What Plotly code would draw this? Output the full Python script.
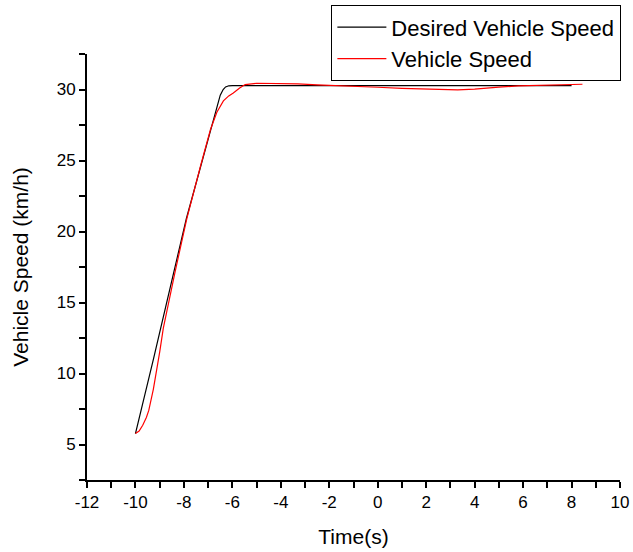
import plotly.graph_objects as go

# Desired vehicle speed (black)
desired_t = [-10.0, -9.26, -7.9, -6.7, -6.5, -6.38, -6.28, -6.15, -6.0, 8.0]
desired_v = [5.77, 11.0, 20.9, 28.5, 29.6, 30.0, 30.18, 30.26, 30.27, 30.27]

# Vehicle speed (red)
vehicle_t = [-10.0, -9.85, -9.7, -9.55, -9.45, -9.35, -9.26, -9.0, -8.85, -8.36, -7.88,
             -7.3, -6.9, -6.64, -6.37, -6.15, -5.96, -5.7, -5.47, -5.0, -4.0, -3.3,
             -2.5, -1.0, 0.0, 1.0, 2.5, 3.3, 4.0, 4.5, 5.0, 5.8, 7.5, 8.45]
vehicle_v = [5.77, 5.95, 6.35, 6.9, 7.4, 8.2, 8.9, 11.5, 13.2, 17.2, 20.9,
             24.7, 27.2, 28.4, 29.2, 29.55, 29.75, 30.1, 30.35, 30.44, 30.44, 30.4,
             30.33, 30.25, 30.16, 30.08, 30.02, 29.98, 30.02, 30.1, 30.17, 30.25, 30.3, 30.37]

# Tick positions (every integer on x, every 2.5 on y; labels only on majors)
x_tick_vals = list(range(-12, 11))
x_tick_text = [str(v) if v % 2 == 0 else "" for v in x_tick_vals]
y_tick_vals = [2.5, 5, 7.5, 10, 12.5, 15, 17.5, 20, 22.5, 25, 27.5, 30, 32.5]
y_tick_text = [str(int(v)) if v % 5 == 0 else "" for v in y_tick_vals]

fig = go.Figure()
fig.add_trace(go.Scatter(x=desired_t, y=desired_v, mode="lines", name="Desired Vehicle Speed",
                         line=dict(color="#000000", width=1.2)))
fig.add_trace(go.Scatter(x=vehicle_t, y=vehicle_v, mode="lines", name="Vehicle Speed",
                         line=dict(color="#FF0000", width=1.2)))

font_family = "Liberation Sans, Arial, sans-serif"
fig.update_layout(
    width=633, height=552,
    margin=dict(l=87, r=13, t=54, b=72, autoexpand=False),
    plot_bgcolor="white", paper_bgcolor="white",
    font=dict(family=font_family, color="black"),
    showlegend=True,
    legend=dict(x=1.002, xanchor="right", y=1.115, yanchor="top",
                bgcolor="white", bordercolor="black", borderwidth=1.3,
                font=dict(size=22, family=font_family), tracegroupgap=0,
                itemwidth=49),
    xaxis=dict(range=[-12, 10], tickmode="array", tickvals=x_tick_vals, ticktext=x_tick_text,
               showgrid=False, zeroline=False, showline=True, linecolor="black", linewidth=2,
               ticks="outside", ticklen=6, tickwidth=2, tickcolor="black",
               tickfont=dict(size=17), title=dict(text="Time(s)", font=dict(size=21), standoff=18)),
    yaxis=dict(range=[2.5, 32.5], tickmode="array", tickvals=y_tick_vals, ticktext=y_tick_text,
               showgrid=False, zeroline=False, showline=True, linecolor="black", linewidth=2,
               ticks="outside", ticklen=6, tickwidth=2, tickcolor="black",
               tickfont=dict(size=17), title=dict(text="Vehicle Speed (km/h)", font=dict(size=21), standoff=22)),
)

fig.write_html("out.html")
